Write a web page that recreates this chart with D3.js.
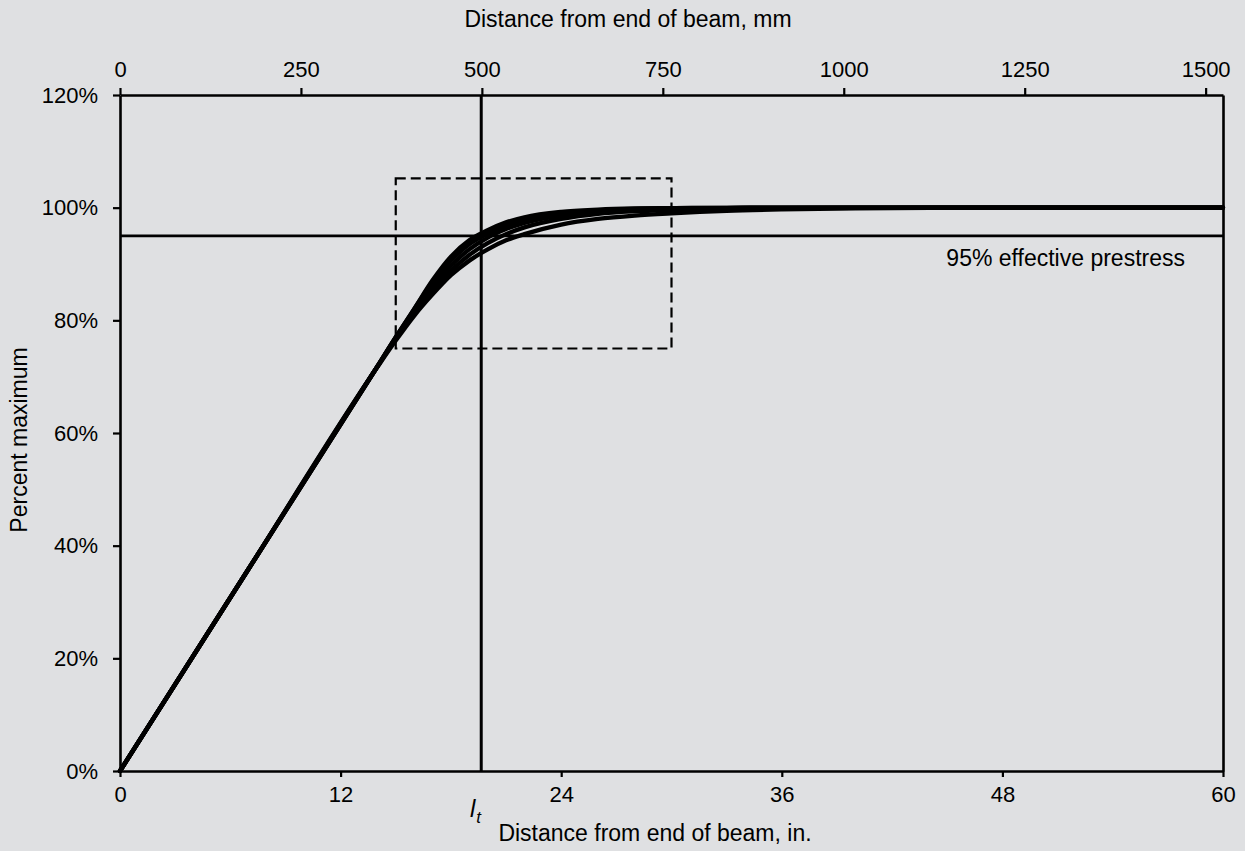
<!DOCTYPE html>
<html>
<head>
<meta charset="utf-8">
<script src="https://cdn.jsdelivr.net/npm/d3@7"></script>
<style>
  html, body { margin: 0; padding: 0; background: #dfe0e2; }
  svg { display: block; }
  text { font-family: "Liberation Sans", Arial, Helvetica, sans-serif; fill: #000; }
</style>
</head>
<body>
<svg id="chart" width="1245" height="851"></svg>
<script>
// ---- data ----
const xInches = [0, 7, 14, 15, 16, 17, 18, 19, 20, 21, 22, 24, 26, 28, 30, 33, 36, 40, 45, 50, 60];
const seriesA = [0, 35.9, 71.8, 77.0, 82.0, 87.1, 91.3, 94.2, 96.0, 97.4, 98.3, 99.25, 99.65, 99.85, 99.93, 99.97, 100, 100, 100, 100, 100];
const seriesB = [0, 35.9, 71.8, 77.0, 82.0, 86.8, 90.6, 93.5, 95.4, 96.8, 97.8, 99.0, 99.5, 99.78, 99.9, 99.96, 100, 100, 100, 100, 100];
const seriesC = [0, 35.9, 71.8, 76.9, 81.6, 86.0, 89.7, 92.6, 94.7, 96.2, 97.3, 98.6, 99.25, 99.6, 99.8, 99.92, 99.97, 100, 100, 100, 100];
const seriesD = [0, 35.9, 71.8, 76.7, 81.2, 85.3, 88.8, 91.6, 93.7, 95.3, 96.5, 98.0, 98.9, 99.35, 99.6, 99.83, 99.93, 99.98, 100, 100, 100];
const seriesE = [0, 35.9, 71.7, 76.4, 80.8, 84.6, 88.0, 90.6, 92.6, 94.2, 95.3, 97.0, 98.0, 98.6, 99.0, 99.45, 99.7, 99.88, 99.96, 100, 100];
const allSeries = [seriesA, seriesB, seriesC, seriesD, seriesE];

const bottomTicks = [0, 12, 24, 36, 48, 60];
const topTicksMM = [0, 250, 500, 750, 1000, 1250, 1500];
const leftTicks = [0, 20, 40, 60, 80, 100, 120];

const transferLength = 19.65;     // l_t, in.
const effectiveLevel = 95;        // %
const zoomBox = {x0: 15, x1: 30, y0: 75, y1: 105.2};

// ---- layout ----
const svg = d3.select("#chart");
const padL = 120, padR = 1223, padT = 95, padB = 771;
const FS = 22, FT = 23;

const x = d3.scaleLinear().domain([0, 60]).range([padL, padR]);
const xmm = d3.scaleLinear().domain([0, 60 * 25.4]).range([padL, padR]);
const y = d3.scaleLinear().domain([0, 120]).range([padB, padT]);

// axes
const gB = svg.append("g").attr("transform", `translate(0,${padB})`)
  .call(d3.axisBottom(x).tickValues(bottomTicks).tickSize(6).tickSizeOuter(0).tickPadding(9).tickFormat(d3.format("d")));
const gT = svg.append("g").attr("transform", `translate(0,${padT})`)
  .call(d3.axisTop(xmm).tickValues(topTicksMM).tickSize(7).tickSizeOuter(0).tickPadding(11).tickFormat(d3.format("d")));
const gL = svg.append("g").attr("transform", `translate(${padL},0)`)
  .call(d3.axisLeft(y).tickValues(leftTicks).tickSize(7).tickSizeOuter(0).tickPadding(15).tickFormat(d => d + "%"));
const gR = svg.append("g").attr("transform", `translate(${padR},0)`)
  .call(d3.axisRight(y).tickValues([]).tickSizeOuter(0));

[gB, gT, gL, gR].forEach(g => {
  g.selectAll(".domain").attr("stroke", "#000").attr("stroke-width", 2.6);
  g.selectAll(".tick line").attr("stroke", "#000").attr("stroke-width", 2.2);
  g.selectAll(".tick text").attr("font-size", FS).attr("font-family", "Liberation Sans, Arial, sans-serif").attr("fill", "#000");
});

// dashed box
svg.append("rect")
  .attr("x", x(zoomBox.x0)).attr("y", y(zoomBox.y1))
  .attr("width", x(zoomBox.x1) - x(zoomBox.x0))
  .attr("height", y(zoomBox.y0) - y(zoomBox.y1))
  .attr("fill", "none").attr("stroke", "#000").attr("stroke-width", 2.2)
  .attr("stroke-dasharray", "10,5");

// 95% line
svg.append("line")
  .attr("x1", x(0)).attr("x2", x(60))
  .attr("y1", y(effectiveLevel)).attr("y2", y(effectiveLevel))
  .attr("stroke", "#000").attr("stroke-width", 2.8);

// l_t line
svg.append("line")
  .attr("x1", x(transferLength)).attr("x2", x(transferLength))
  .attr("y1", y(120)).attr("y2", y(0))
  .attr("stroke", "#000").attr("stroke-width", 3);

// curves
const line = d3.line()
  .x((d, i) => x(xInches[i]))
  .y(d => y(d))
  .curve(d3.curveMonotoneX);

svg.append("g").selectAll("path").data(allSeries).join("path")
  .attr("d", d => line(d))
  .attr("fill", "none").attr("stroke", "#000").attr("stroke-width", 4.3)
  .attr("stroke-linejoin", "round").attr("stroke-linecap", "round");

// labels
svg.append("text").attr("x", 628).attr("y", 27).attr("text-anchor", "middle")
  .attr("font-size", FT).text("Distance from end of beam, mm");
svg.append("text").attr("x", 655).attr("y", 841).attr("text-anchor", "middle")
  .attr("font-size", FT).text("Distance from end of beam, in.");
svg.append("text").attr("transform", `translate(27,440) rotate(-90)`).attr("text-anchor", "middle")
  .attr("font-size", FT).text("Percent maximum");
svg.append("text").attr("x", 1185).attr("y", 266).attr("text-anchor", "end")
  .attr("font-size", FT).text("95% effective prestress");

const lt = svg.append("text").attr("x", 470).attr("y", 817).attr("font-size", 24).attr("font-style", "italic");
lt.append("tspan").text("l");
lt.append("tspan").attr("dy", 6).attr("dx", 1).attr("font-size", 17).text("t");
</script>
</body>
</html>
